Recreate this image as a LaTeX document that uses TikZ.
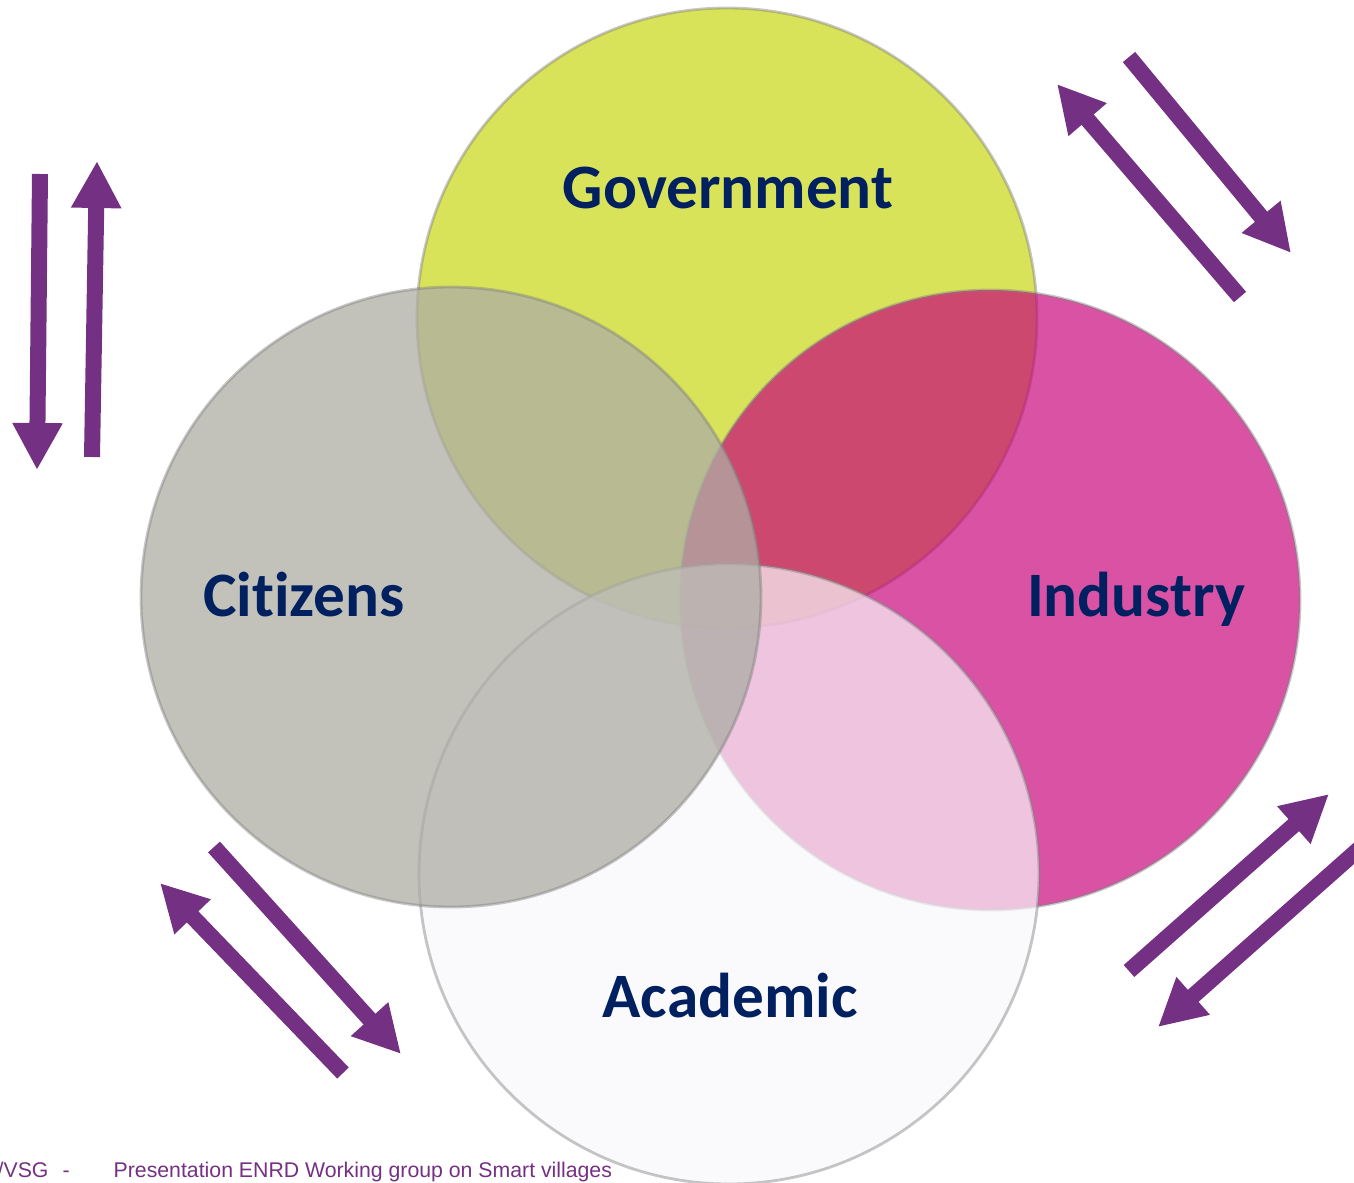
\documentclass[tikz,border=0pt]{standalone}
\usepackage{fontspec}
\setmainfont[Ligatures=NoCommon]{Carlito}
\newfontfamily\footfont{Liberation Sans}
\usepackage{xcolor}
\usetikzlibrary{arrows.meta}

\definecolor{govyellow}{RGB}{217,227,90}
\definecolor{indmagenta}{RGB}{200,0,121}
\definecolor{acadwhite}{RGB}{248,246,250}
\definecolor{citgrey}{RGB}{173,173,164}
\definecolor{labelblue}{RGB}{0,32,96}
\definecolor{flowpurple}{RGB}{116,48,130}

\begin{document}
\begin{tikzpicture}[
    sector/.style={circle, minimum size=6.2cm, inner sep=0pt, draw=gray, draw opacity=0.45, line width=0.8pt},
    sectorname/.style={text=labelblue, font=\fontsize{18}{20}\selectfont\bfseries, anchor=base},
    flow/.style={flowpurple, line width=0.16cm, -{Triangle[length=0.47cm, width=0.47cm]}},
    footer/.style={text=flowpurple, font=\footfont\fontsize{6.05}{7}\selectfont, anchor=base west, inner sep=0pt}
]
    \useasboundingbox (0,0) rectangle (13.54,11.82);
    \clip (0,0) rectangle (13.54,11.82);

    % Draw the four overlapping circles
    \node[sector, fill=govyellow] (gov) at (7.27,8.64) {};
    \node[sector, fill=indmagenta, fill opacity=0.68] (ind) at (9.90,5.82) {};
    \node[sector, fill=acadwhite, fill opacity=0.7] (acad) at (7.29,3.08) {};
    \node[sector, fill=citgrey, fill opacity=0.75] (cit) at (4.51,5.85) {};

    % Names of the sectors
    \node[sectorname] (govname) at (7.28,9.74) {Government};
    \node[sectorname] (citname) at (3.04,5.66) {Citizens};
    \node[sectorname] (indname) at (11.36,5.66) {Industry};
    \node[sectorname] (acadname) at (7.30,1.65) {Academic};

    % End points of the exchange arrows
    \coordinate (l1s) at (0.40,10.08); \coordinate (l1e) at (0.37,7.12);
    \coordinate (l2s) at (0.92,7.25);  \coordinate (l2e) at (0.97,10.21);
    \coordinate (t1s) at (12.40,8.85); \coordinate (t1e) at (10.57,10.98);
    \coordinate (t2s) at (11.29,11.25); \coordinate (t2e) at (12.91,9.29);
    \coordinate (r1s) at (11.29,2.11); \coordinate (r1e) at (13.29,3.88);
    \coordinate (r2s) at (13.60,3.34); \coordinate (r2e) at (11.58,1.55);
    \coordinate (b1s) at (3.43,1.09);  \coordinate (b1e) at (1.60,2.99);
    \coordinate (b2s) at (2.14,3.35);  \coordinate (b2e) at (4.01,1.28);

    % Draw the arrows in pairs
    \foreach \pair in {l1,l2,t1,t2,r1,r2,b1,b2} {
        \draw[flow] (\pair s) -- (\pair e);
    }

    % Footer line
    \node[footer] (vsg) at (-0.03,0.05) {/VSG};
    \node[footer] (dash) at (0.62,0.05) {-};
    \node[footer] (pres) at (1.13,0.05) {Presentation ENRD Working group on Smart villages};
\end{tikzpicture}
\end{document}
